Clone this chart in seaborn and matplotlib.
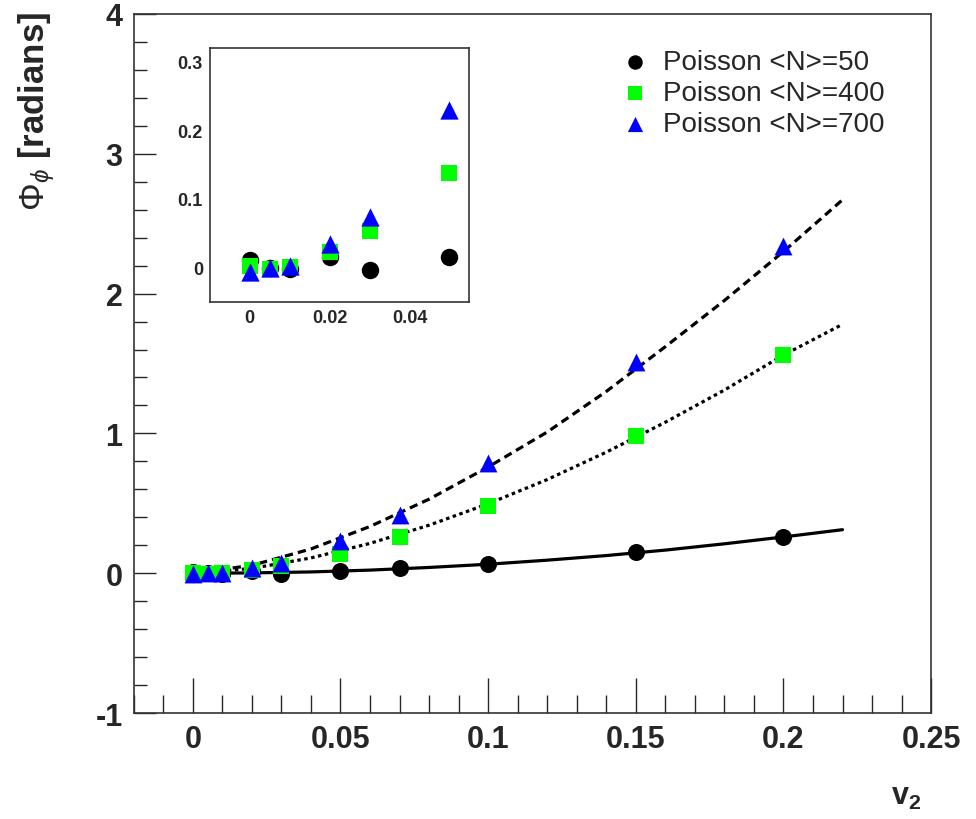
import numpy as np
import pandas as pd
import matplotlib
matplotlib.use("Agg")
import matplotlib.pyplot as plt
import seaborn as sns
from matplotlib.ticker import MultipleLocator

# measured points (v2, Phi)
v2 = [0, 0.005, 0.01, 0.02, 0.03, 0.05, 0.07, 0.1, 0.15, 0.2]
phi_n50 = [0.011, 0.0, -0.002, 0.016, -0.003, 0.016, 0.04, 0.065, 0.15, 0.26]
phi_n400 = [0.003, -0.002, 0.001, 0.023, 0.054, 0.138, 0.26, 0.48, 0.98, 1.56]
phi_n700 = [-0.007, 0.0, 0.003, 0.035, 0.074, 0.23, 0.42, 0.79, 1.51, 2.34]

# fit curves
fit_x = [0, 0.02, 0.04, 0.06, 0.08, 0.10, 0.12, 0.14, 0.16, 0.18, 0.20, 0.22]
fit_n50 = [0, 0.003, 0.010, 0.023, 0.042, 0.065, 0.094, 0.127, 0.166, 0.211, 0.26, 0.312]
fit_n400 = [0, 0.035, 0.11, 0.214, 0.344, 0.497, 0.67, 0.866, 1.08, 1.31, 1.56, 1.78]
fit_n700 = [0, 0.057, 0.174, 0.335, 0.53, 0.76, 1.01, 1.30, 1.62, 1.95, 2.30, 2.67]

labels = ["Poisson <N>=50", "Poisson <N>=400", "Poisson <N>=700"]
colors = ["#000000", "#00ff00", "#0000ff"]
markers = ["o", "s", "^"]

sns.set_style("white")
plt.rcParams["font.family"] = ["Liberation Sans", "DejaVu Sans"]
plt.rcParams["mathtext.fontset"] = "custom"
plt.rcParams["mathtext.rm"] = "Liberation Sans"
plt.rcParams["mathtext.it"] = "Liberation Sans:italic"
plt.rcParams["mathtext.bf"] = "Liberation Sans:bold"

pts = pd.DataFrame({"v2": v2, labels[0]: phi_n50, labels[1]: phi_n400, labels[2]: phi_n700})
fits = pd.DataFrame({"v2": fit_x, labels[0]: fit_n50, labels[1]: fit_n400, labels[2]: fit_n700})
styles = ["-", (0, (1.1, 1.1)), (0, (2.6, 1.6))]

fig = plt.figure(figsize=(9.76, 8.2), dpi=100)
ax = fig.add_axes([0.137, 0.129, 0.817, 0.853])

for lab, ls in zip(labels, styles):
    sns.lineplot(data=fits, x="v2", y=lab, ax=ax, color="black", lw=2.3,
                 linestyle=ls, estimator=None, sort=True, legend=False)

sizes = [150, 135, 165]
for lab, c, m, s in zip(labels, colors, markers, sizes):
    sns.scatterplot(data=pts, x="v2", y=lab, ax=ax, color=c, marker=m, s=s,
                    linewidth=0, label=lab, zorder=5)

ax.set_xlim(-0.02, 0.25)
ax.set_ylim(-1, 4)
ax.xaxis.set_minor_locator(MultipleLocator(0.01))
ax.yaxis.set_minor_locator(MultipleLocator(0.2))
ax.set_xticks([0, 0.05, 0.1, 0.15, 0.2, 0.25])
ax.set_xticklabels(["0", "0.05", "0.1", "0.15", "0.2", "0.25"])
ax.set_yticks([-1, 0, 1, 2, 3, 4])
ax.set_yticklabels(["-1", "0", "1", "2", "3", "4"])
ax.tick_params(axis="x", which="major", direction="in", length=25, width=1,
               labelsize=22, pad=8, top=False, bottom=True)
ax.tick_params(axis="x", which="minor", direction="in", length=13, width=1,
               top=False, bottom=True)
ax.tick_params(axis="y", which="major", direction="in", length=16, width=1,
               labelsize=22, pad=8, left=True, right=False)
ax.tick_params(axis="y", which="minor", direction="in", length=9, width=1,
               left=True, right=False)
for t in ax.get_xticklabels() + ax.get_yticklabels():
    t.set_fontweight("bold")
for sp in ax.spines.values():
    sp.set_color("#333333")
    sp.set_linewidth(1.2)
ax.set_xlabel("")
ax.set_ylabel("")

leg = ax.legend(loc="upper left", bbox_to_anchor=(621 / 976, 1 - 50 / 820),
                bbox_transform=fig.transFigure, frameon=False, fontsize=20,
                markerscale=0.85, handlelength=1.0, handletextpad=0.5,
                labelspacing=0.18, borderpad=0, borderaxespad=0)

fig.text(0.038, 0.985, r"$\Phi_{\phi}$ [radians]", rotation=90, ha="center",
         va="top", fontsize=25, fontweight="bold")
fig.text(0.928, 0.028, r"$\mathbf{v}_{\mathbf{2}}$", ha="center", va="center",
         fontsize=22)

# inset
ins = fig.add_axes([0.215, 0.6305, 0.266, 0.31])
for lab, c, m, s in zip(labels, colors, markers, sizes):
    sns.scatterplot(data=pts[pts["v2"] <= 0.05], x="v2", y=lab, ax=ins, color=c,
                    marker=m, s=s * 1.05, linewidth=0, legend=False, zorder=5)
ins.set_xlim(-0.01, 0.055)
ins.set_ylim(-0.05, 0.32)
ins.set_xticks([0, 0.02, 0.04])
ins.set_xticklabels(["0", "0.02", "0.04"])
ins.set_yticks([0, 0.1, 0.2, 0.3])
ins.set_yticklabels(["0", "0.1", "0.2", "0.3"])
ins.tick_params(direction="in", length=8, width=1, labelsize=13, pad=5)
for t in ins.get_xticklabels() + ins.get_yticklabels():
    t.set_fontweight("bold")
for sp in ins.spines.values():
    sp.set_color("#333333")
    sp.set_linewidth(1.2)
ins.set_xlabel("")
ins.set_ylabel("")

fig.savefig("out.png", dpi=100)
